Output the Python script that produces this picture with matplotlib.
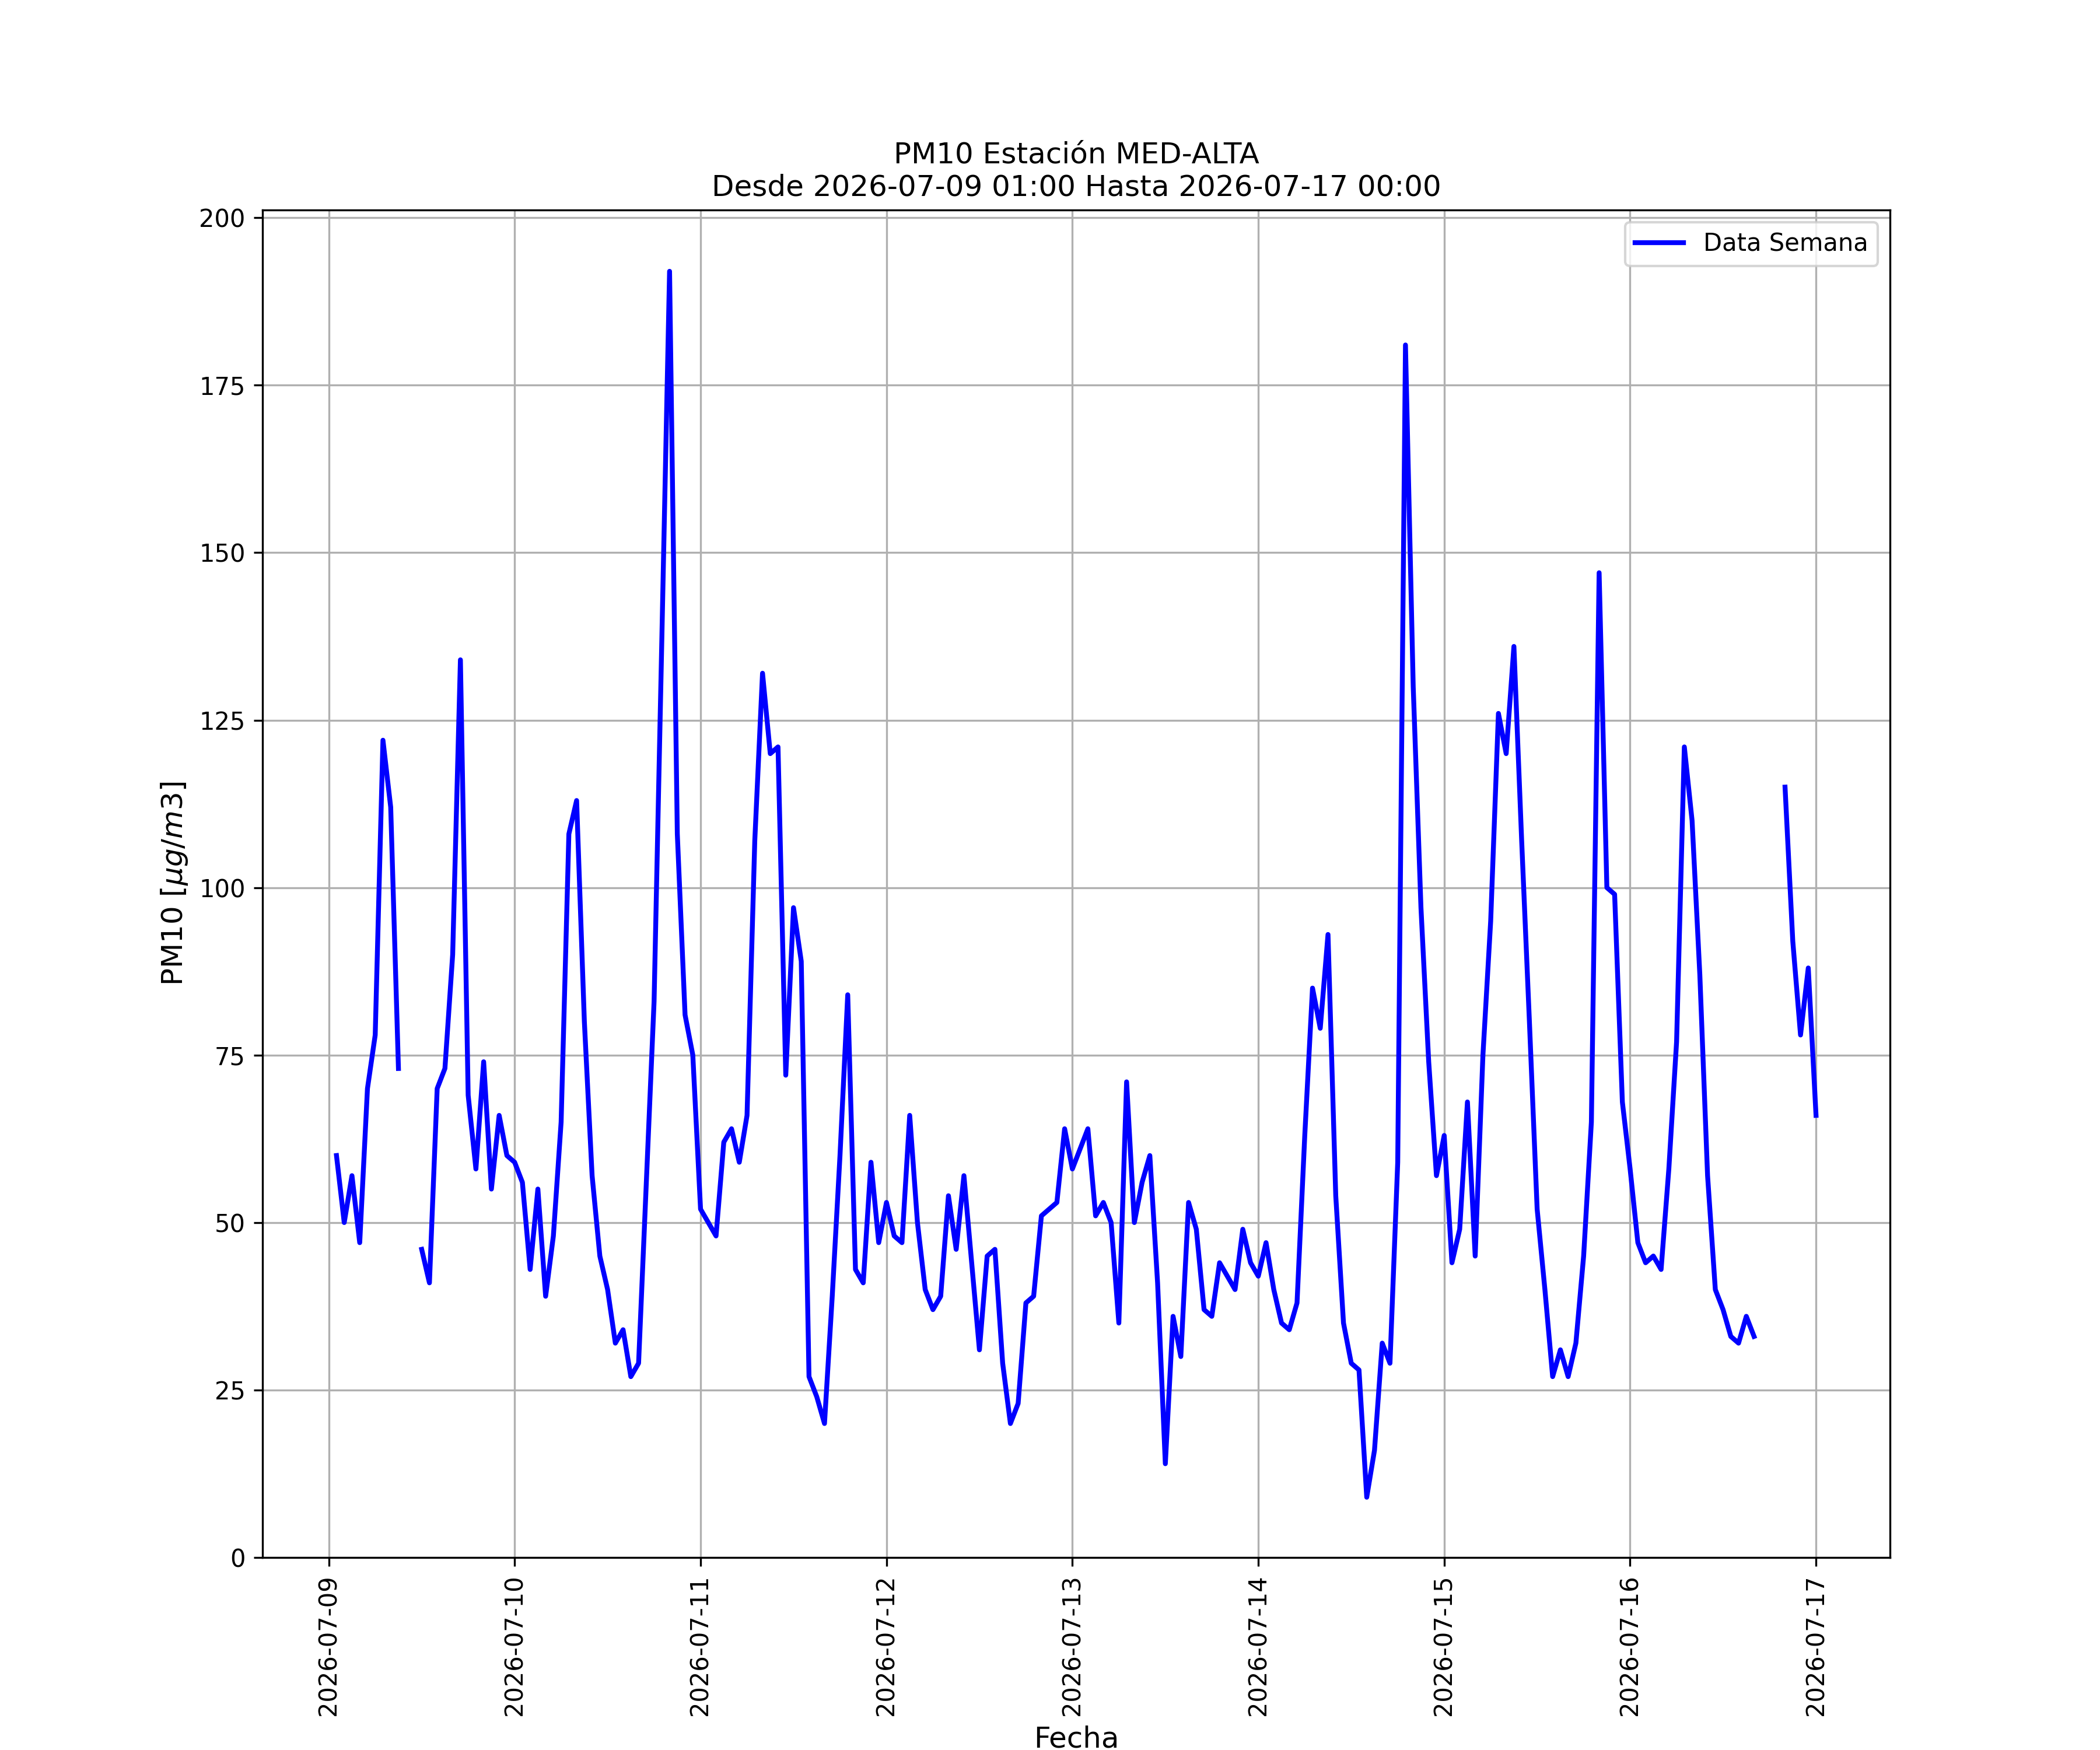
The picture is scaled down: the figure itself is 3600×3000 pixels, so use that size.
import numpy as np
import pandas as pd
import matplotlib
matplotlib.use("Agg")
import matplotlib.pyplot as plt
import matplotlib.dates as mdates

nan = np.nan

STATION = "MED-ALTA"
START = "2026-07-09 01:00"
END = "2026-07-17 00:00"

# hourly PM10 values, one list per day (07-09 starts at 01:00)
d0709 = [60, 50, 57, 47, 70, 78, 122, 112, 73, nan, nan, 46, 41, 70, 73, 90,
         134, 69, 58, 74, 55, 66, 60]
d0710 = [59, 56, 43, 55, 39, 48, 65, 108, 113, 80, 57, 45, 40, 32, 34, 27,
         29, 56, 83, 137, 192, 108, 81, 75]
d0711 = [52, 50, 48, 62, 64, 59, 66, 107, 132, 120, 121, 72, 97, 89, 27, 24,
         20, 39, 60, 84, 43, 41, 59, 47]
d0712 = [53, 48, 47, 66, 50, 40, 37, 39, 54, 46, 57, 44, 31, 45, 46, 29,
         20, 23, 38, 39, 51, 52, 53, 64]
d0713 = [58, 61, 64, 51, 53, 50, 35, 71, 50, 56, 60, 41, 14, 36, 30, 53,
         49, 37, 36, 44, 42, 40, 49, 44]
d0714 = [42, 47, 40, 35, 34, 38, 63, 85, 79, 93, 54, 35, 29, 28, 9, 16,
         32, 29, 59, 181, 130, 97, 74, 57]
d0715 = [63, 44, 49, 68, 45, 75, 95, 126, 120, 136, 107, 80, 52, 40, 27, 31,
         27, 32, 45, 65, 147, 100, 99, 68]
d0716 = [58, 47, 44, 45, 43, 58, 77, 121, 110, 87, 57, 40, 37, 33, 32, 36,
         33, nan, nan, nan, 115, 92, 78, 88]
d0717 = [66]

pm10 = d0709 + d0710 + d0711 + d0712 + d0713 + d0714 + d0715 + d0716 + d0717
fechas = pd.date_range(START, END, freq="h")

fig = plt.figure(figsize=(12, 10), dpi=300)
ax = fig.add_subplot(111)
ax.plot(fechas, pm10, color="blue", linewidth=2, label="Data Semana")
ax.set_ylim(bottom=0)

ax.xaxis.set_major_locator(mdates.DayLocator())
ax.xaxis.set_major_formatter(mdates.DateFormatter("%Y-%m-%d"))
plt.xticks(rotation=90)
ax.set_yticks(np.arange(0, 201, 25))

ax.set_title("PM10 Estación " + STATION + "\nDesde " + START + " Hasta " + END,
             fontsize=12)
ax.set_xlabel("Fecha", fontsize=12)
ax.set_ylabel(r"PM10 [$\mu g/m3$]", fontsize=12)
ax.grid(True)
ax.legend(loc="upper right")

fig.savefig("out.png", dpi=300)
